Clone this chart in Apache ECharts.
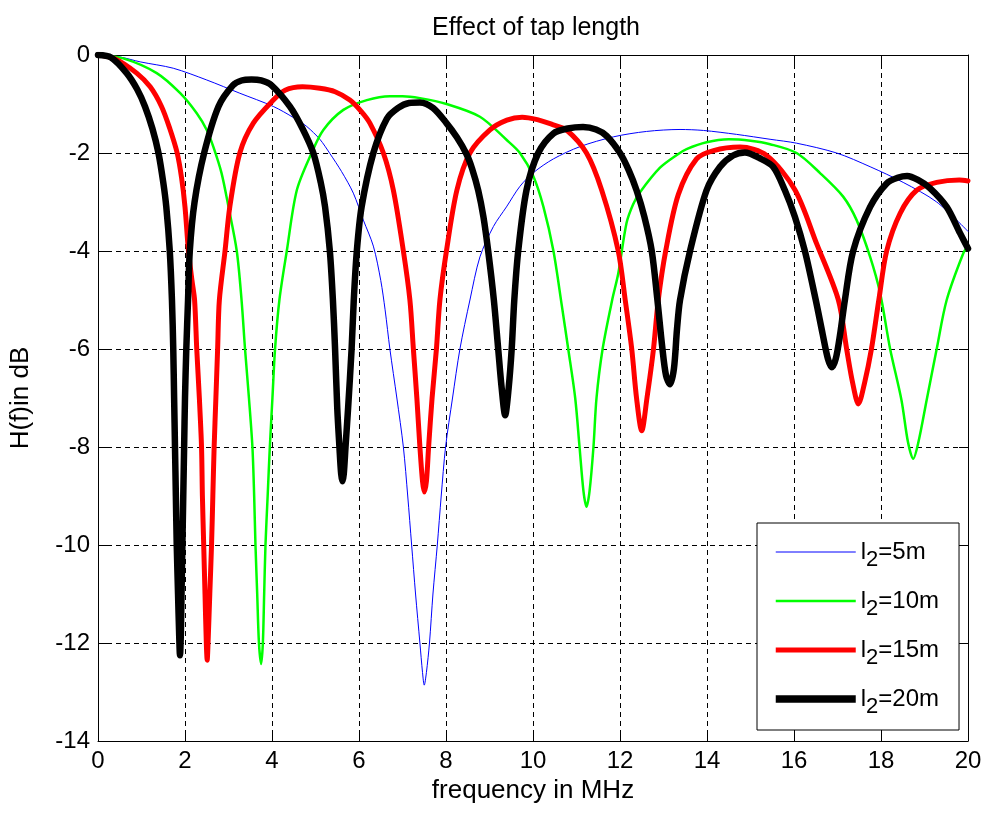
<!DOCTYPE html>
<html>
<head>
<meta charset="utf-8">
<script src="https://cdn.jsdelivr.net/npm/echarts@6/dist/echarts.min.js"></script>
<style>
html,body{margin:0;padding:0;background:#fff;}
#chart{width:985px;height:813px;}
</style>
</head>
<body>
<div id="chart"></div>
<script>
// ---- data ----
const seriesNames = ['l2=5m', 'l2=10m', 'l2=15m', 'l2=20m'];

const l5x = [0,0.5,0.97,1.73,2.5,3.26,4.03,4.5,4.8,5.1,5.33,5.6,5.87,6.1,6.33,6.5,6.6,6.71,6.87,7.02,7.12,7.21,7.3,7.4,7.46,7.5,7.55,7.62,7.7,7.8,7.89,7.99,8.15,8.32,8.55,8.78,9.09,9.39,9.7,10.01,10.47,11.08,11.85,12.61,13.38,13.92,14.68,15.45,16.06,16.98,17.75,18.51,19.28,20];
const l5y = [0,-0.04,-0.14,-0.27,-0.51,-0.78,-1.05,-1.28,-1.46,-1.72,-2.01,-2.38,-2.82,-3.37,-3.9,-4.6,-5.2,-6.0,-7.0,-8.0,-9,-10,-11,-12,-12.6,-12.86,-12.6,-12,-11,-10,-9,-8,-7,-6,-5,-4.12,-3.5,-3.1,-2.68,-2.4,-2.12,-1.87,-1.67,-1.56,-1.52,-1.54,-1.62,-1.72,-1.8,-2.0,-2.28,-2.6,-3.0,-3.6];

const l10x = [0,0.58,1.35,1.89,2.27,2.5,2.65,2.84,3.0,3.19,3.3,3.38,3.47,3.55,3.59,3.62,3.66,3.7,3.75,3.79,3.82,3.85,3.9,3.95,4.01,4.07,4.17,4.34,4.57,4.91,5.18,5.64,6.18,6.71,7.0,7.4,8.01,8.78,9.39,9.7,10.01,10.24,10.47,10.66,10.81,10.97,11.07,11.16,11.23,11.3,11.39,11.46,11.6,11.82,11.96,12.15,12.3,12.46,12.92,13.34,13.53,13.99,14.5,15.0,15.45,16.06,16.6,17.13,17.44,17.75,17.98,18.21,18.47,18.62,18.74,18.86,19.05,19.28,19.51,19.89,20];
const l10y = [0,-0.07,-0.37,-0.78,-1.19,-1.53,-1.87,-2.41,-3.1,-4.0,-5,-6,-7,-8,-9,-10,-11,-12,-12.43,-12,-11,-10,-9,-8,-7,-6,-5,-4,-2.76,-2.0,-1.53,-1.12,-0.92,-0.84,-0.84,-0.88,-1.0,-1.26,-1.73,-2.0,-2.48,-3.1,-4.0,-5.1,-6.0,-7,-8,-8.9,-9.22,-8.9,-8,-7,-6,-5,-4.46,-3.43,-3.05,-2.8,-2.3,-2.02,-1.92,-1.78,-1.72,-1.75,-1.82,-2.0,-2.41,-2.89,-3.37,-4.12,-4.86,-6.0,-7.04,-7.9,-8.24,-7.9,-7.04,-6.0,-5.0,-4.05,-3.9];

const l15x = [0,0.4,0.89,1.2,1.46,1.65,1.82,1.92,2.0,2.08,2.16,2.22,2.27,2.33,2.38,2.40,2.43,2.46,2.49,2.51,2.53,2.57,2.61,2.64,2.67,2.71,2.75,2.79,2.92,3.03,3.26,3.57,4.03,4.3,4.7,5.1,5.45,5.79,6.05,6.25,6.56,6.79,7.02,7.17,7.25,7.33,7.4,7.46,7.5,7.55,7.6,7.68,7.78,7.86,8.01,8.25,8.55,9.01,9.4,9.75,10.1,10.45,10.77,11.23,11.58,11.96,12.12,12.27,12.38,12.5,12.62,12.77,12.88,13.05,13.34,13.76,14.15,14.76,15.37,16.02,16.52,17.02,17.21,17.35,17.48,17.62,17.78,17.95,18.13,18.44,18.82,19.28,19.8,20];
const l15y = [0,-0.08,-0.37,-0.65,-1.05,-1.5,-2.0,-2.5,-3.1,-4.0,-4.6,-5,-6,-7,-8,-9,-10,-11,-12,-12.35,-12,-11,-10,-9,-8,-7,-6,-5,-4,-3.1,-2.0,-1.39,-0.92,-0.72,-0.65,-0.68,-0.75,-0.92,-1.15,-1.39,-2.0,-2.76,-4.0,-5.0,-6.0,-7,-8,-8.7,-8.92,-8.7,-8,-7,-6,-5,-4,-2.76,-2.0,-1.53,-1.33,-1.27,-1.32,-1.42,-1.53,-2.0,-2.76,-4,-5,-6,-7,-7.67,-7,-6,-5,-4,-2.85,-2.12,-1.95,-1.88,-2.05,-2.75,-3.85,-5,-6,-6.7,-7.12,-6.7,-6,-5,-4,-3.23,-2.76,-2.6,-2.55,-2.57];

const l20x = [0,0.3,0.66,0.9,1.08,1.25,1.39,1.5,1.57,1.65,1.70,1.73,1.75,1.77,1.79,1.81,1.84,1.865,1.885,1.905,1.92,1.94,1.96,1.98,2.0,2.03,2.07,2.11,2.22,2.44,2.77,3.1,3.3,3.53,3.75,3.99,4.41,4.7,4.95,5.12,5.22,5.33,5.40,5.45,5.50,5.55,5.59,5.62,5.65,5.69,5.75,5.83,5.88,5.95,6.06,6.33,6.64,6.9,7.15,7.4,7.7,8.01,8.25,8.47,8.6,8.74,8.86,8.97,9.1,9.2,9.28,9.36,9.44,9.51,9.57,9.66,9.85,10.12,10.47,10.8,11.15,11.45,11.69,12.0,12.2,12.38,12.56,12.73,12.86,12.97,13.06,13.15,13.24,13.31,13.38,13.61,13.99,14.3,14.6,14.87,15.2,15.52,15.79,16.02,16.25,16.5,16.66,16.78,16.87,16.96,17.06,17.17,17.36,17.75,18.13,18.4,18.6,18.85,19.13,19.51,19.82,20];
const l20y = [0,-0.05,-0.37,-0.7,-1.05,-1.5,-2.0,-2.6,-3.1,-4.0,-5,-6,-7,-8,-9,-10,-11,-11.8,-12.25,-11.8,-11,-10,-9,-8,-7,-6,-5,-4,-3.0,-2.0,-1.05,-0.62,-0.52,-0.5,-0.52,-0.62,-1.05,-1.5,-2.0,-2.6,-3.1,-4.0,-5.0,-6.0,-7.2,-8.0,-8.55,-8.7,-8.55,-8.0,-7.2,-6.0,-5.0,-4.0,-3.1,-2.0,-1.3,-1.08,-0.98,-0.97,-1.08,-1.39,-1.68,-2.02,-2.32,-2.76,-3.3,-4.0,-5.0,-6.0,-6.8,-7.35,-6.8,-6.0,-5.0,-4.0,-2.76,-2.0,-1.6,-1.5,-1.47,-1.52,-1.65,-2.0,-2.35,-2.76,-3.3,-4.0,-5.0,-5.95,-6.55,-6.72,-6.4,-5.6,-5.0,-4.0,-2.76,-2.28,-2.05,-1.99,-2.1,-2.28,-2.76,-3.3,-4.0,-5.0,-5.7,-6.2,-6.37,-6.2,-5.7,-5.0,-4.0,-3.1,-2.62,-2.5,-2.47,-2.55,-2.72,-3.1,-3.64,-3.95];

const xRange = [0, 20];
const yRange = [-14, 0];
const tickStep = 2;

// ---- presentation ----
const FONT = "'Liberation Sans', Arial, sans-serif";
const colors = ['#0000ff', '#00ff00', '#ff0000', '#000000'];
const widths = [1, 2.5, 5, 6.5];
const xs = [l5x, l10x, l15x, l20x];
const ys = [l5y, l10y, l15y, l20y];

const zip = (a, b) => a.map((v, i) => [v, b[i]]);

const gridDash = { color: '#000', width: 1, type: [5, 4] };

const chart = echarts.init(document.getElementById('chart'), null, { renderer: 'canvas' });

const baseAxisX = { type: 'value', min: xRange[0], max: xRange[1], interval: tickStep };
const baseAxisY = { type: 'value', min: yRange[0], max: yRange[1], interval: tickStep };
const frameLine = { show: true, onZero: false, lineStyle: { color: '#000', width: 1 } };
const inTick = { show: true, inside: true, length: 9, lineStyle: { color: '#000' } };

chart.setOption({
  animation: false,
  backgroundColor: '#fff',
  title: {
    text: 'Effect of tap length',
    left: 531, top: 11, textAlign: 'center',
    textStyle: { fontFamily: FONT, fontSize: 25, fontWeight: 'normal', color: '#000' }
  },
  grid: { left: 98, right: 17, top: 55, bottom: 72, containLabel: false },
  xAxis: [
    Object.assign({}, baseAxisX, {
      position: 'bottom',
      name: 'frequency in MHz', nameLocation: 'middle', nameGap: 34,
      nameTextStyle: { fontFamily: FONT, fontSize: 26, color: '#000' },
      axisLine: frameLine, axisTick: inTick,
      axisLabel: { fontFamily: FONT, fontSize: 24, color: '#000', margin: 8 },
      splitLine: { show: true, lineStyle: gridDash }
    }),
    Object.assign({}, baseAxisX, {
      position: 'top',
      axisLine: frameLine, axisTick: inTick,
      axisLabel: { show: false }, splitLine: { show: false }
    })
  ],
  yAxis: [
    Object.assign({}, baseAxisY, {
      position: 'left',
      name: 'H(f)in dB', nameLocation: 'middle', nameGap: 64, nameRotate: 90,
      nameTextStyle: { fontFamily: FONT, fontSize: 26, color: '#000' },
      axisLine: frameLine, axisTick: inTick,
      axisLabel: { fontFamily: FONT, fontSize: 24, color: '#000', margin: 8 },
      splitLine: { show: true, lineStyle: gridDash }
    }),
    Object.assign({}, baseAxisY, {
      position: 'right',
      axisLine: frameLine, axisTick: inTick,
      axisLabel: { show: false }, splitLine: { show: false }
    })
  ],
  legend: {
    orient: 'vertical',
    left: 757, top: 523,
    padding: [17, 20, 12, 15],
    itemWidth: 80, itemHeight: 16, itemGap: 18,
    backgroundColor: '#fff',
    borderColor: '#000', borderWidth: 1, borderRadius: 0,
    selectedMode: false,
    itemStyle: { opacity: 0 },
    data: seriesNames.map((name, i) => ({
      name: name,
      lineStyle: { color: colors[i], width: widths[i] + (i === 3 ? 1 : 0), cap: 'butt' }
    })),
    formatter: function (name) {
      return '{a|l}{s|2}{a|' + name.slice(2) + '}';
    },
    textStyle: {
      fontFamily: FONT, color: '#000',
      rich: {
        a: { fontFamily: FONT, fontSize: 24, color: '#000', lineHeight: 38, verticalAlign: 'middle' },
        s: { fontFamily: FONT, fontSize: 22, color: '#000', lineHeight: 38, verticalAlign: 'bottom' }
      }
    }
  },
  series: seriesNames.map((name, i) => ({
    name: name,
    type: 'line',
    xAxisIndex: 0, yAxisIndex: 0,
    data: zip(xs[i], ys[i]),
    showSymbol: false, symbol: 'none',
    smooth: 0.3,
    lineStyle: { color: colors[i], width: widths[i], join: 'round', cap: 'round' },
    itemStyle: { color: colors[i] },
    z: 2 + i
  }))
});
</script>
</body>
</html>
